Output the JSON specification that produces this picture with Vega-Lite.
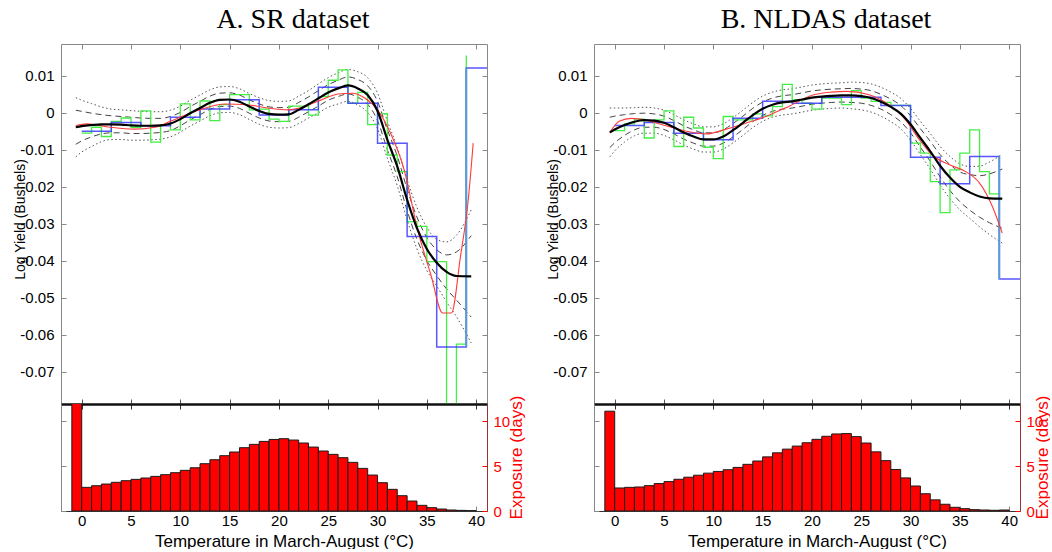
{
"$schema": "https://vega.github.io/schema/vega-lite/v6.json",
"padding": {"left": 13, "top": 5, "right": 0, "bottom": 0},
"background": "white",
"config": {
  "view": {"stroke": null},
  "axis": {"labelFont": "Liberation Sans", "labelFontSize": 15, "labelColor": "#000", "titleFont": "Liberation Sans", "titleFontWeight": "normal", "titleColor": "#000", "domainColor": "#888", "tickColor": "#888", "grid": false},
  "title": {"font": "Liberation Serif", "fontSize": 28, "fontWeight": "normal", "color": "#000"}
},
"datasets": {
  "fitA": [
    {"T":-0.6,"fit":-0.0039,"lo1":-0.0085,"hi1":0.0007,"lo2":-0.0119,"hi2":0.0041},
    {"T":0,"fit":-0.0036,"lo1":-0.0076,"hi1":0.0004,"lo2":-0.0106,"hi2":0.0034},
    {"T":1,"fit":-0.0033,"lo1":-0.0065,"hi1":-0.0001,"lo2":-0.0091,"hi2":0.0025},
    {"T":2,"fit":-0.0031,"lo1":-0.0057,"hi1":-0.0005,"lo2":-0.0078,"hi2":0.0016},
    {"T":3,"fit":-0.0031,"lo1":-0.0054,"hi1":-0.0008,"lo2":-0.0072,"hi2":0.0010},
    {"T":4,"fit":-0.0032,"lo1":-0.0054,"hi1":-0.0010,"lo2":-0.0072,"hi2":0.0008},
    {"T":5,"fit":-0.0034,"lo1":-0.0056,"hi1":-0.0012,"lo2":-0.0074,"hi2":0.0006},
    {"T":6,"fit":-0.0035,"lo1":-0.0056,"hi1":-0.0014,"lo2":-0.0074,"hi2":0.0004},
    {"T":7,"fit":-0.0035,"lo1":-0.0055,"hi1":-0.0015,"lo2":-0.0073,"hi2":0.0003},
    {"T":8,"fit":-0.0034,"lo1":-0.0053,"hi1":-0.0015,"lo2":-0.0071,"hi2":0.0003},
    {"T":9,"fit":-0.0029,"lo1":-0.0048,"hi1":-0.0010,"lo2":-0.0065,"hi2":0.0007},
    {"T":10,"fit":-0.0017,"lo1":-0.0035,"hi1":0.0001,"lo2":-0.0052,"hi2":0.0018},
    {"T":11,"fit":-0.0001,"lo1":-0.0019,"hi1":0.0017,"lo2":-0.0036,"hi2":0.0034},
    {"T":12,"fit":0.0013,"lo1":-0.0005,"hi1":0.0031,"lo2":-0.0022,"hi2":0.0048},
    {"T":13,"fit":0.0027,"lo1":0.0009,"hi1":0.0045,"lo2":-0.0008,"hi2":0.0062},
    {"T":14,"fit":0.0035,"lo1":0.0017,"hi1":0.0053,"lo2":0.0000,"hi2":0.0070},
    {"T":15,"fit":0.0036,"lo1":0.0018,"hi1":0.0054,"lo2":0.0001,"hi2":0.0071},
    {"T":16,"fit":0.0030,"lo1":0.0012,"hi1":0.0048,"lo2":-0.0005,"hi2":0.0065},
    {"T":17,"fit":0.0017,"lo1":-0.0001,"hi1":0.0035,"lo2":-0.0018,"hi2":0.0052},
    {"T":18,"fit":0.0005,"lo1":-0.0014,"hi1":0.0024,"lo2":-0.0031,"hi2":0.0041},
    {"T":19,"fit":-0.0003,"lo1":-0.0022,"hi1":0.0016,"lo2":-0.0039,"hi2":0.0033},
    {"T":20,"fit":-0.0005,"lo1":-0.0024,"hi1":0.0014,"lo2":-0.0041,"hi2":0.0031},
    {"T":21,"fit":-0.0004,"lo1":-0.0023,"hi1":0.0015,"lo2":-0.0040,"hi2":0.0032},
    {"T":22,"fit":0.0008,"lo1":-0.0012,"hi1":0.0028,"lo2":-0.0029,"hi2":0.0045},
    {"T":23,"fit":0.0023,"lo1":0.0003,"hi1":0.0043,"lo2":-0.0014,"hi2":0.0060},
    {"T":24,"fit":0.0039,"lo1":0.0018,"hi1":0.0060,"lo2":0.0000,"hi2":0.0078},
    {"T":25,"fit":0.0055,"lo1":0.0034,"hi1":0.0076,"lo2":0.0015,"hi2":0.0095},
    {"T":26,"fit":0.0066,"lo1":0.0044,"hi1":0.0088,"lo2":0.0024,"hi2":0.0108},
    {"T":27,"fit":0.0074,"lo1":0.0051,"hi1":0.0097,"lo2":0.0031,"hi2":0.0117},
    {"T":28,"fit":0.0066,"lo1":0.0042,"hi1":0.0090,"lo2":0.0021,"hi2":0.0111},
    {"T":29,"fit":0.0048,"lo1":0.0023,"hi1":0.0073,"lo2":0.0001,"hi2":0.0095},
    {"T":30,"fit":0.0005,"lo1":-0.0021,"hi1":0.0031,"lo2":-0.0043,"hi2":0.0053},
    {"T":31,"fit":-0.0073,"lo1":-0.0100,"hi1":-0.0046,"lo2":-0.0123,"hi2":-0.0023},
    {"T":32,"fit":-0.0145,"lo1":-0.0173,"hi1":-0.0117,"lo2":-0.0197,"hi2":-0.0093},
    {"T":33,"fit":-0.0235,"lo1":-0.0264,"hi1":-0.0206,"lo2":-0.0289,"hi2":-0.0181},
    {"T":34,"fit":-0.0312,"lo1":-0.0342,"hi1":-0.0282,"lo2":-0.0368,"hi2":-0.0256},
    {"T":35,"fit":-0.0368,"lo1":-0.0399,"hi1":-0.0337,"lo2":-0.0426,"hi2":-0.0310},
    {"T":36,"fit":-0.0405,"lo1":-0.0440,"hi1":-0.0370,"lo2":-0.0468,"hi2":-0.0342},
    {"T":37,"fit":-0.0430,"lo1":-0.0476,"hi1":-0.0384,"lo2":-0.0511,"hi2":-0.0349},
    {"T":38,"fit":-0.0441,"lo1":-0.0506,"hi1":-0.0376,"lo2":-0.0551,"hi2":-0.0331},
    {"T":39.5,"fit":-0.0442,"lo1":-0.0552,"hi1":-0.0332,"lo2":-0.0622,"hi2":-0.0262}
  ],
  "fitB": [
    {"T":-0.5,"fit":-0.0053,"lo1":-0.0094,"hi1":-0.0012,"lo2":-0.0119,"hi2":0.0013},
    {"T":0,"fit":-0.0045,"lo1":-0.0081,"hi1":-0.0009,"lo2":-0.0103,"hi2":0.0013},
    {"T":1,"fit":-0.0033,"lo1":-0.0061,"hi1":-0.0005,"lo2":-0.0079,"hi2":0.0013},
    {"T":2,"fit":-0.0024,"lo1":-0.0046,"hi1":-0.0002,"lo2":-0.0062,"hi2":0.0014},
    {"T":3,"fit":-0.0020,"lo1":-0.0039,"hi1":-0.0001,"lo2":-0.0055,"hi2":0.0015},
    {"T":4,"fit":-0.0021,"lo1":-0.0039,"hi1":-0.0003,"lo2":-0.0055,"hi2":0.0013},
    {"T":5,"fit":-0.0027,"lo1":-0.0045,"hi1":-0.0009,"lo2":-0.0061,"hi2":0.0007},
    {"T":6,"fit":-0.0039,"lo1":-0.0057,"hi1":-0.0021,"lo2":-0.0073,"hi2":-0.0005},
    {"T":7,"fit":-0.0053,"lo1":-0.0071,"hi1":-0.0035,"lo2":-0.0087,"hi2":-0.0019},
    {"T":8,"fit":-0.0064,"lo1":-0.0082,"hi1":-0.0046,"lo2":-0.0098,"hi2":-0.0030},
    {"T":9,"fit":-0.0072,"lo1":-0.0090,"hi1":-0.0054,"lo2":-0.0106,"hi2":-0.0038},
    {"T":10,"fit":-0.0072,"lo1":-0.0090,"hi1":-0.0054,"lo2":-0.0106,"hi2":-0.0038},
    {"T":11,"fit":-0.0064,"lo1":-0.0082,"hi1":-0.0046,"lo2":-0.0098,"hi2":-0.0030},
    {"T":12,"fit":-0.0047,"lo1":-0.0065,"hi1":-0.0029,"lo2":-0.0081,"hi2":-0.0013},
    {"T":13,"fit":-0.0027,"lo1":-0.0045,"hi1":-0.0009,"lo2":-0.0061,"hi2":0.0007},
    {"T":14,"fit":-0.0006,"lo1":-0.0024,"hi1":0.0012,"lo2":-0.0040,"hi2":0.0028},
    {"T":15,"fit":0.0011,"lo1":-0.0007,"hi1":0.0029,"lo2":-0.0023,"hi2":0.0045},
    {"T":16,"fit":0.0022,"lo1":0.0004,"hi1":0.0040,"lo2":-0.0012,"hi2":0.0056},
    {"T":17,"fit":0.0028,"lo1":0.0010,"hi1":0.0046,"lo2":-0.0006,"hi2":0.0062},
    {"T":18,"fit":0.0031,"lo1":0.0013,"hi1":0.0049,"lo2":-0.0003,"hi2":0.0065},
    {"T":19,"fit":0.0036,"lo1":0.0018,"hi1":0.0054,"lo2":0.0002,"hi2":0.0070},
    {"T":20,"fit":0.0041,"lo1":0.0023,"hi1":0.0059,"lo2":0.0007,"hi2":0.0075},
    {"T":21,"fit":0.0044,"lo1":0.0026,"hi1":0.0062,"lo2":0.0010,"hi2":0.0078},
    {"T":22,"fit":0.0046,"lo1":0.0028,"hi1":0.0064,"lo2":0.0012,"hi2":0.0080},
    {"T":23,"fit":0.0047,"lo1":0.0029,"hi1":0.0065,"lo2":0.0013,"hi2":0.0081},
    {"T":24,"fit":0.0047,"lo1":0.0028,"hi1":0.0066,"lo2":0.0011,"hi2":0.0083},
    {"T":25,"fit":0.0045,"lo1":0.0026,"hi1":0.0064,"lo2":0.0008,"hi2":0.0082},
    {"T":26,"fit":0.0040,"lo1":0.0020,"hi1":0.0060,"lo2":0.0002,"hi2":0.0078},
    {"T":27,"fit":0.0030,"lo1":0.0010,"hi1":0.0050,"lo2":-0.0009,"hi2":0.0069},
    {"T":28,"fit":0.0016,"lo1":-0.0005,"hi1":0.0037,"lo2":-0.0024,"hi2":0.0056},
    {"T":29,"fit":-0.0002,"lo1":-0.0024,"hi1":0.0020,"lo2":-0.0043,"hi2":0.0039},
    {"T":30,"fit":-0.0031,"lo1":-0.0054,"hi1":-0.0008,"lo2":-0.0074,"hi2":0.0012},
    {"T":31,"fit":-0.0068,"lo1":-0.0093,"hi1":-0.0043,"lo2":-0.0113,"hi2":-0.0023},
    {"T":32,"fit":-0.0104,"lo1":-0.0131,"hi1":-0.0077,"lo2":-0.0152,"hi2":-0.0056},
    {"T":33,"fit":-0.0143,"lo1":-0.0173,"hi1":-0.0113,"lo2":-0.0195,"hi2":-0.0091},
    {"T":34,"fit":-0.0175,"lo1":-0.0210,"hi1":-0.0140,"lo2":-0.0232,"hi2":-0.0118},
    {"T":35,"fit":-0.0200,"lo1":-0.0240,"hi1":-0.0160,"lo2":-0.0262,"hi2":-0.0138},
    {"T":36,"fit":-0.0215,"lo1":-0.0263,"hi1":-0.0167,"lo2":-0.0285,"hi2":-0.0145},
    {"T":37,"fit":-0.0226,"lo1":-0.0282,"hi1":-0.0170,"lo2":-0.0308,"hi2":-0.0144},
    {"T":38,"fit":-0.0231,"lo1":-0.0297,"hi1":-0.0165,"lo2":-0.0329,"hi2":-0.0133},
    {"T":39.3,"fit":-0.0232,"lo1":-0.0312,"hi1":-0.0152,"lo2":-0.0352,"hi2":-0.0112}
  ],
  "redA": [
    {"T":-0.6,"v":-0.0035},{"T":0.5,"v":-0.0030},{"T":2.9,"v":-0.0039},{"T":5.3,"v":-0.0044},
    {"T":7.4,"v":-0.0039},{"T":9.0,"v":-0.0023},{"T":11.4,"v":0.0003},{"T":14.5,"v":0.0024},
    {"T":16.8,"v":0.0022},{"T":18.85,"v":0.0013},{"T":20.9,"v":0.0008},{"T":22.6,"v":0.0017},
    {"T":24.3,"v":0.0035},{"T":26.0,"v":0.0051},{"T":27.5,"v":0.0053},{"T":28.7,"v":0.0040},
    {"T":30.0,"v":0.0008},{"T":31.4,"v":-0.0060},{"T":32.7,"v":-0.0154},{"T":34.1,"v":-0.0320},
    {"T":35.4,"v":-0.0437},{"T":36.6,"v":-0.0541},{"T":37.5,"v":-0.0541},{"T":38.4,"v":-0.0390},
    {"T":39.2,"v":-0.0235},{"T":39.7,"v":-0.0082}
  ],
  "redB": [
    {"T":-0.5,"v":-0.0053},{"T":0.5,"v":-0.0022},{"T":1.7,"v":-0.0015},{"T":3.2,"v":-0.0020},
    {"T":5.2,"v":-0.0035},{"T":7.3,"v":-0.0050},{"T":9.3,"v":-0.0057},{"T":11.3,"v":-0.0044},
    {"T":13.3,"v":-0.0028},{"T":15.4,"v":-0.0009},{"T":17.7,"v":0.0018},{"T":20.1,"v":0.0048},
    {"T":22.0,"v":0.0056},{"T":23.5,"v":0.0058},{"T":25.8,"v":0.0049},{"T":27.8,"v":0.0022},
    {"T":29.5,"v":-0.0019},{"T":30.9,"v":-0.0073},{"T":32.2,"v":-0.0114},{"T":33.9,"v":-0.0140},
    {"T":35.6,"v":-0.0159},{"T":37.0,"v":-0.0190},{"T":38.3,"v":-0.0253},{"T":39.3,"v":-0.0325}
  ],
  "greenA": [
    {"T":0,"v":-0.0055},{"T":1,"v":-0.0039},{"T":2,"v":-0.0064},{"T":3,"v":-0.0023},{"T":4,"v":-0.0014},
    {"T":5,"v":-0.0039},{"T":6,"v":0.0005},{"T":7,"v":-0.0079},{"T":8,"v":-0.0032},{"T":9,"v":-0.0046},
    {"T":10,"v":0.0024},{"T":11,"v":-0.0019},{"T":12,"v":0.0032},{"T":13,"v":-0.0021},{"T":14,"v":0.0022},
    {"T":15,"v":0.0049},{"T":16,"v":0.0049},{"T":17,"v":0.0008},{"T":18,"v":0.0010},{"T":19,"v":-0.0017},
    {"T":20,"v":-0.0023},{"T":21,"v":0.0018},{"T":22,"v":0.0018},{"T":23,"v":-0.0006},{"T":24,"v":0.0044},
    {"T":25,"v":0.0088},{"T":26,"v":0.0116},{"T":27,"v":0.0026},{"T":28,"v":0.0055},{"T":29,"v":-0.0032},
    {"T":30,"v":-0.0002},{"T":31,"v":-0.0114},{"T":32,"v":-0.0159},{"T":33,"v":-0.0294},{"T":34,"v":-0.0307},
    {"T":35,"v":-0.0402},{"T":36,"v":-0.0402},{"T":37,"v":-0.0950},{"T":38,"v":-0.0625},{"T":39,"v":0.0155}
  ],
  "greenB": [
    {"T":0,"v":-0.0048},{"T":1,"v":-0.0030},{"T":2,"v":-0.0017},{"T":3,"v":-0.0068},{"T":4,"v":-0.0019},
    {"T":5,"v":0.0005},{"T":6,"v":-0.0091},{"T":7,"v":-0.0012},{"T":8,"v":-0.0041},{"T":9,"v":-0.0093},
    {"T":10,"v":-0.0124},{"T":11,"v":-0.0010},{"T":12,"v":-0.0019},{"T":13,"v":-0.0019},{"T":14,"v":-0.0003},
    {"T":15,"v":-0.0008},{"T":16,"v":0.0017},{"T":17,"v":0.0077},{"T":18,"v":0.0035},{"T":19,"v":0.0026},
    {"T":20,"v":0.0010},{"T":21,"v":0.0040},{"T":22,"v":0.0040},{"T":23,"v":0.0022},{"T":24,"v":0.0060},
    {"T":25,"v":0.0040},{"T":26,"v":0.0031},{"T":27,"v":0.0028},{"T":28,"v":0.0020},{"T":29,"v":0.0020},
    {"T":30,"v":-0.0082},{"T":31,"v":-0.0109},{"T":32,"v":-0.0186},{"T":33,"v":-0.0270},{"T":34,"v":-0.0154},
    {"T":35,"v":-0.0109},{"T":36,"v":-0.0046},{"T":37,"v":-0.0159},{"T":38,"v":-0.0219},{"T":39,"v":-0.0219}
  ],
  "blueA": [
    {"T":0,"v":-0.0050},{"T":3,"v":-0.0026},{"T":6,"v":-0.0035},{"T":9,"v":-0.0012},{"T":12,"v":0.0010},
    {"T":15,"v":0.0035},{"T":18,"v":-0.0006},{"T":21,"v":0.0008},{"T":24,"v":0.0069},{"T":27,"v":0.0026},
    {"T":30,"v":-0.0082},{"T":33,"v":-0.0334},{"T":36,"v":-0.0633},{"T":39,"v":0.0121},{"T":41.1,"v":0.0121}
  ],
  "blueB": [
    {"T":0,"v":-0.0034},{"T":3,"v":-0.0026},{"T":6,"v":-0.0055},{"T":9,"v":-0.0073},{"T":12,"v":-0.0015},
    {"T":15,"v":0.0031},{"T":18,"v":0.0026},{"T":21,"v":0.0042},{"T":24,"v":0.0042},{"T":27,"v":0.0020},
    {"T":30,"v":-0.0120},{"T":33,"v":-0.0192},{"T":36,"v":-0.0118},{"T":39,"v":-0.0449},{"T":41.1,"v":-0.0449}
  ],
  "vlineA": [{"T":39,"a":-0.0633,"b":0.0121}],
  "vlineB": [{"T":39,"a":-0.0118,"b":-0.0449}],
  "histA": [
    {"x0":-1,"x1":0,"e":12.2},{"x0":0,"x1":1,"e":2.63},{"x0":1,"x1":2,"e":2.81},{"x0":2,"x1":3,"e":3.00},
    {"x0":3,"x1":4,"e":3.19},{"x0":4,"x1":5,"e":3.37},{"x0":5,"x1":6,"e":3.52},{"x0":6,"x1":7,"e":3.67},
    {"x0":7,"x1":8,"e":3.85},{"x0":8,"x1":9,"e":4.04},{"x0":9,"x1":10,"e":4.26},{"x0":10,"x1":11,"e":4.52},
    {"x0":11,"x1":12,"e":4.81},{"x0":12,"x1":13,"e":5.26},{"x0":13,"x1":14,"e":5.70},{"x0":14,"x1":15,"e":6.15},
    {"x0":15,"x1":16,"e":6.56},{"x0":16,"x1":17,"e":7.04},{"x0":17,"x1":18,"e":7.41},{"x0":18,"x1":19,"e":7.74},
    {"x0":19,"x1":20,"e":7.96},{"x0":20,"x1":21,"e":8.04},{"x0":21,"x1":22,"e":7.89},{"x0":22,"x1":23,"e":7.56},
    {"x0":23,"x1":24,"e":7.11},{"x0":24,"x1":25,"e":6.67},{"x0":25,"x1":26,"e":6.30},{"x0":26,"x1":27,"e":5.93},
    {"x0":27,"x1":28,"e":5.41},{"x0":28,"x1":29,"e":4.74},{"x0":29,"x1":30,"e":4.00},{"x0":30,"x1":31,"e":3.15},
    {"x0":31,"x1":32,"e":2.41},{"x0":32,"x1":33,"e":1.70},{"x0":33,"x1":34,"e":1.11},{"x0":34,"x1":35,"e":0.63},
    {"x0":35,"x1":36,"e":0.37},{"x0":36,"x1":37,"e":0.22},{"x0":37,"x1":38,"e":0.11},{"x0":38,"x1":39,"e":0.07},
    {"x0":39,"x1":40,"e":0.04}
  ],
  "histB": [
    {"x0":-1,"x1":0,"e":11.1},{"x0":0,"x1":1,"e":2.56},{"x0":1,"x1":2,"e":2.63},{"x0":2,"x1":3,"e":2.67},
    {"x0":3,"x1":4,"e":2.82},{"x0":4,"x1":5,"e":3.05},{"x0":5,"x1":6,"e":3.27},{"x0":6,"x1":7,"e":3.53},
    {"x0":7,"x1":8,"e":3.76},{"x0":8,"x1":9,"e":3.98},{"x0":9,"x1":10,"e":4.21},{"x0":10,"x1":11,"e":4.40},
    {"x0":11,"x1":12,"e":4.59},{"x0":12,"x1":13,"e":4.85},{"x0":13,"x1":14,"e":5.19},{"x0":14,"x1":15,"e":5.56},
    {"x0":15,"x1":16,"e":6.02},{"x0":16,"x1":17,"e":6.47},{"x0":17,"x1":18,"e":6.88},{"x0":18,"x1":19,"e":7.22},
    {"x0":19,"x1":20,"e":7.59},{"x0":20,"x1":21,"e":7.97},{"x0":21,"x1":22,"e":8.31},{"x0":22,"x1":23,"e":8.57},
    {"x0":23,"x1":24,"e":8.61},{"x0":24,"x1":25,"e":8.27},{"x0":25,"x1":26,"e":7.56},{"x0":26,"x1":27,"e":6.58},
    {"x0":27,"x1":28,"e":5.60},{"x0":28,"x1":29,"e":4.62},{"x0":29,"x1":30,"e":3.68},{"x0":30,"x1":31,"e":2.78},
    {"x0":31,"x1":32,"e":1.92},{"x0":32,"x1":33,"e":1.24},{"x0":33,"x1":34,"e":0.75},{"x0":34,"x1":35,"e":0.41},
    {"x0":35,"x1":36,"e":0.26},{"x0":36,"x1":37,"e":0.15},{"x0":37,"x1":38,"e":0.11},{"x0":38,"x1":39,"e":0.08},
    {"x0":39,"x1":40,"e":0.11}
  ]
},
"columns": 2,
"spacing": {"row": 0, "column": 107},
"bounds": "flush",
"concat": [
   {
    "width": 426, "height": 360,
    "title": {"text": "A. SR dataset", "dx": 19, "offset": 10},
    "resolve": {"axis": {"x": "independent", "y": "independent"}},
    "layer": [
     {"data": {"name": "fitA"}, "transform": [{"fold": ["lo2","hi2"], "as": ["band","v"]}],
      "mark": {"type": "line", "color": "#555", "strokeWidth": 1, "strokeDash": [1.5,2.5], "interpolate": "monotone", "clip": true},
      "encoding": {
        "x": {"field": "T", "type": "quantitative", "scale": {"domain": [-2.1,41.1], "nice": false, "zero": false},
              "axis": {"orient": "bottom", "values": [0,5,10,15,20,25,30,35,40], "labels": false, "title": null, "tickSize": -5, "domainColor": "#111", "domainWidth": 2, "tickColor": "#555"}},
        "y": {"field": "v", "type": "quantitative", "scale": {"domain": [-0.0787,0.0186], "nice": false, "zero": false},
              "axis": {"orient": "left", "values": [-0.07,-0.06,-0.05,-0.04,-0.03,-0.02,-0.01,0,0.01], "labelExpr": "datum.value == 0 ? '0' : (datum.value < 0 ? '-' + format(-datum.value, '.2f') : format(datum.value, '.2f'))", "tickSize": -5, "labelPadding": 12, "title": "Log Yield (Bushels)", "titleFontSize": 14, "titleAngle": 270, "titleX": -34, "titleY": 175, "titleBaseline": "bottom", "titleAlign": "center"}},
        "detail": {"field": "band"}
      }},
     {"data": {"name": "fitA"}, "transform": [{"fold": ["lo1","hi1"], "as": ["band","v"]}],
      "mark": {"type": "line", "color": "#444", "strokeWidth": 1, "strokeDash": [6,4], "interpolate": "monotone", "clip": true},
      "encoding": {
        "x": {"field": "T", "type": "quantitative", "scale": {"domain": [-2.1,41.1], "nice": false, "zero": false}, "axis": null},
        "y": {"field": "v", "type": "quantitative", "scale": {"domain": [-0.0787,0.0186], "nice": false, "zero": false}, "axis": null},
        "detail": {"field": "band"}
      }},
     {"mark": {"type": "rule", "color": "#666", "strokeWidth": 1, "strokeDash": [1.5,2.5]},
      "encoding": {"y": {"datum": 0, "type": "quantitative", "scale": {"domain": [-0.0787,0.0186], "nice": false, "zero": false}, "axis": null}}},
     {"data": {"name": "greenA"},
      "mark": {"type": "line", "color": "#44ee44", "strokeWidth": 1.3, "interpolate": "step-after", "clip": true},
      "encoding": {
        "x": {"field": "T", "type": "quantitative", "scale": {"domain": [-2.1,41.1], "nice": false, "zero": false}, "axis": null},
        "y": {"field": "v", "type": "quantitative", "scale": {"domain": [-0.0787,0.0186], "nice": false, "zero": false}, "axis": null}
      }},
     {"data": {"name": "blueA"},
      "mark": {"type": "line", "color": "#3a3aff", "strokeWidth": 1.5, "opacity": 0.85, "interpolate": "step-after", "clip": true},
      "encoding": {
        "x": {"field": "T", "type": "quantitative", "scale": {"domain": [-2.1,41.1], "nice": false, "zero": false}, "axis": null},
        "y": {"field": "v", "type": "quantitative", "scale": {"domain": [-0.0787,0.0186], "nice": false, "zero": false}, "axis": null}
      }},
     {"data": {"name": "vlineA"},
      "mark": {"type": "rule", "color": "#5b9bd5", "strokeWidth": 2},
      "encoding": {
        "x": {"field": "T", "type": "quantitative", "scale": {"domain": [-2.1,41.1], "nice": false, "zero": false}, "axis": null},
        "y": {"field": "a", "type": "quantitative", "scale": {"domain": [-0.0787,0.0186], "nice": false, "zero": false}, "axis": null},
        "y2": {"field": "b"}
      }},
     {"data": {"name": "redA"},
      "mark": {"type": "line", "color": "#ff3b3b", "strokeWidth": 1.1, "interpolate": "monotone", "clip": true},
      "encoding": {
        "x": {"field": "T", "type": "quantitative", "scale": {"domain": [-2.1,41.1], "nice": false, "zero": false}, "axis": null},
        "y": {"field": "v", "type": "quantitative", "scale": {"domain": [-0.0787,0.0186], "nice": false, "zero": false}, "axis": null}
      }},
     {"data": {"name": "fitA"},
      "mark": {"type": "line", "color": "#000", "strokeWidth": 2.2, "interpolate": "monotone", "clip": true},
      "encoding": {
        "x": {"field": "T", "type": "quantitative", "scale": {"domain": [-2.1,41.1], "nice": false, "zero": false},
              "axis": {"orient": "top", "values": [0,5,10,15,20,25,30,35,40], "labels": false, "title": null, "tickSize": -5}},
        "y": {"field": "fit", "type": "quantitative", "scale": {"domain": [-0.0787,0.0186], "nice": false, "zero": false},
              "axis": {"orient": "right", "values": [-0.07,-0.06,-0.05,-0.04,-0.03,-0.02,-0.01,0,0.01], "labels": false, "title": null, "tickSize": -5}}
      }}
    ]
   },
   {
    "width": 426, "height": 360,
    "title": {"text": "B. NLDAS dataset", "dx": 19, "offset": 10},
    "resolve": {"axis": {"x": "independent", "y": "independent"}},
    "layer": [
     {"data": {"name": "fitB"}, "transform": [{"fold": ["lo2","hi2"], "as": ["band","v"]}],
      "mark": {"type": "line", "color": "#555", "strokeWidth": 1, "strokeDash": [1.5,2.5], "interpolate": "monotone", "clip": true},
      "encoding": {
        "x": {"field": "T", "type": "quantitative", "scale": {"domain": [-2.1,41.1], "nice": false, "zero": false},
              "axis": {"orient": "bottom", "values": [0,5,10,15,20,25,30,35,40], "labels": false, "title": null, "tickSize": -5, "domainColor": "#111", "domainWidth": 2, "tickColor": "#555"}},
        "y": {"field": "v", "type": "quantitative", "scale": {"domain": [-0.0787,0.0186], "nice": false, "zero": false},
              "axis": {"orient": "left", "values": [-0.07,-0.06,-0.05,-0.04,-0.03,-0.02,-0.01,0,0.01], "labelExpr": "datum.value == 0 ? '0' : (datum.value < 0 ? '-' + format(-datum.value, '.2f') : format(datum.value, '.2f'))", "tickSize": -5, "labelPadding": 12, "title": "Log Yield (Bushels)", "titleFontSize": 14, "titleAngle": 270, "titleX": -34, "titleY": 175, "titleBaseline": "bottom", "titleAlign": "center"}},
        "detail": {"field": "band"}
      }},
     {"data": {"name": "fitB"}, "transform": [{"fold": ["lo1","hi1"], "as": ["band","v"]}],
      "mark": {"type": "line", "color": "#444", "strokeWidth": 1, "strokeDash": [6,4], "interpolate": "monotone", "clip": true},
      "encoding": {
        "x": {"field": "T", "type": "quantitative", "scale": {"domain": [-2.1,41.1], "nice": false, "zero": false}, "axis": null},
        "y": {"field": "v", "type": "quantitative", "scale": {"domain": [-0.0787,0.0186], "nice": false, "zero": false}, "axis": null},
        "detail": {"field": "band"}
      }},
     {"mark": {"type": "rule", "color": "#666", "strokeWidth": 1, "strokeDash": [1.5,2.5]},
      "encoding": {"y": {"datum": 0, "type": "quantitative", "scale": {"domain": [-0.0787,0.0186], "nice": false, "zero": false}, "axis": null}}},
     {"data": {"name": "greenB"},
      "mark": {"type": "line", "color": "#44ee44", "strokeWidth": 1.3, "interpolate": "step-after", "clip": true},
      "encoding": {
        "x": {"field": "T", "type": "quantitative", "scale": {"domain": [-2.1,41.1], "nice": false, "zero": false}, "axis": null},
        "y": {"field": "v", "type": "quantitative", "scale": {"domain": [-0.0787,0.0186], "nice": false, "zero": false}, "axis": null}
      }},
     {"data": {"name": "blueB"},
      "mark": {"type": "line", "color": "#3a3aff", "strokeWidth": 1.5, "opacity": 0.85, "interpolate": "step-after", "clip": true},
      "encoding": {
        "x": {"field": "T", "type": "quantitative", "scale": {"domain": [-2.1,41.1], "nice": false, "zero": false}, "axis": null},
        "y": {"field": "v", "type": "quantitative", "scale": {"domain": [-0.0787,0.0186], "nice": false, "zero": false}, "axis": null}
      }},
     {"data": {"name": "vlineB"},
      "mark": {"type": "rule", "color": "#5b9bd5", "strokeWidth": 2},
      "encoding": {
        "x": {"field": "T", "type": "quantitative", "scale": {"domain": [-2.1,41.1], "nice": false, "zero": false}, "axis": null},
        "y": {"field": "a", "type": "quantitative", "scale": {"domain": [-0.0787,0.0186], "nice": false, "zero": false}, "axis": null},
        "y2": {"field": "b"}
      }},
     {"data": {"name": "redB"},
      "mark": {"type": "line", "color": "#ff3b3b", "strokeWidth": 1.1, "interpolate": "monotone", "clip": true},
      "encoding": {
        "x": {"field": "T", "type": "quantitative", "scale": {"domain": [-2.1,41.1], "nice": false, "zero": false}, "axis": null},
        "y": {"field": "v", "type": "quantitative", "scale": {"domain": [-0.0787,0.0186], "nice": false, "zero": false}, "axis": null}
      }},
     {"data": {"name": "fitB"},
      "mark": {"type": "line", "color": "#000", "strokeWidth": 2.2, "interpolate": "monotone", "clip": true},
      "encoding": {
        "x": {"field": "T", "type": "quantitative", "scale": {"domain": [-2.1,41.1], "nice": false, "zero": false},
              "axis": {"orient": "top", "values": [0,5,10,15,20,25,30,35,40], "labels": false, "title": null, "tickSize": -5}},
        "y": {"field": "fit", "type": "quantitative", "scale": {"domain": [-0.0787,0.0186], "nice": false, "zero": false},
              "axis": {"orient": "right", "values": [-0.07,-0.06,-0.05,-0.04,-0.03,-0.02,-0.01,0,0.01], "labels": false, "title": null, "tickSize": -5}}
      }}
    ]
   },
   {
    "width": 426, "height": 107,
    "data": {"name": "histA"},
    "resolve": {"axis": {"x": "independent", "y": "independent"}},
    "layer": [
     {"mark": {"type": "bar", "color": "#ff0000", "stroke": "#1a1a1a", "strokeWidth": 1, "clip": true},
      "encoding": {
        "x": {"field": "x0", "type": "quantitative", "scale": {"domain": [-2.1,41.1], "nice": false, "zero": false},
              "axis": {"orient": "bottom", "values": [0,5,10,15,20,25,30,35,40], "tickSize": -5, "labelPadding": 7, "domainColor": "#333", "title": "Temperature in March-August (°C)", "titleFontSize": 17, "titleX": 223, "titlePadding": 5}},
        "x2": {"field": "x1"},
        "y": {"field": "e", "type": "quantitative", "scale": {"domain": [0,11.9], "nice": false},
              "axis": {"orient": "right", "values": [0,5,10], "tickSize": -5, "labelPadding": 11, "labelColor": "#ff0000", "tickColor": "#ff0000", "domainColor": "#993333", "title": "Exposure (days)", "titleColor": "#ff0000", "titleFontSize": 17, "titleAngle": 270, "titleX": 21, "titleY": 53, "titleBaseline": "top", "titleAlign": "center"}},
        "y2": {"datum": 0}
      }},
     {"mark": {"type": "bar", "opacity": 0},
      "encoding": {
        "x": {"field": "x0", "type": "quantitative", "scale": {"domain": [-2.1,41.1], "nice": false, "zero": false},
              "axis": {"orient": "top", "values": [0,5,10,15,20,25,30,35,40], "labels": false, "title": null, "tickSize": -5, "domainColor": "#111", "domainWidth": 2, "tickColor": "#333"}},
        "x2": {"field": "x1"},
        "y": {"field": "e", "type": "quantitative", "scale": {"domain": [0,11.9], "nice": false},
              "axis": {"orient": "left", "values": [0,5,10], "labels": false, "title": null, "tickSize": -5}},
        "y2": {"datum": 0}
      }}
    ]
   },
   {
    "width": 426, "height": 107,
    "data": {"name": "histB"},
    "resolve": {"axis": {"x": "independent", "y": "independent"}},
    "layer": [
     {"mark": {"type": "bar", "color": "#ff0000", "stroke": "#1a1a1a", "strokeWidth": 1, "clip": true},
      "encoding": {
        "x": {"field": "x0", "type": "quantitative", "scale": {"domain": [-2.1,41.1], "nice": false, "zero": false},
              "axis": {"orient": "bottom", "values": [0,5,10,15,20,25,30,35,40], "tickSize": -5, "labelPadding": 7, "domainColor": "#333", "title": "Temperature in March-August (°C)", "titleFontSize": 17, "titleX": 223, "titlePadding": 5}},
        "x2": {"field": "x1"},
        "y": {"field": "e", "type": "quantitative", "scale": {"domain": [0,11.9], "nice": false},
              "axis": {"orient": "right", "values": [0,5,10], "tickSize": -5, "labelPadding": 11, "labelColor": "#ff0000", "tickColor": "#ff0000", "domainColor": "#993333", "title": "Exposure (days)", "titleColor": "#ff0000", "titleFontSize": 17, "titleAngle": 270, "titleX": 14, "titleY": 53, "titleBaseline": "top", "titleAlign": "center"}},
        "y2": {"datum": 0}
      }},
     {"mark": {"type": "bar", "opacity": 0},
      "encoding": {
        "x": {"field": "x0", "type": "quantitative", "scale": {"domain": [-2.1,41.1], "nice": false, "zero": false},
              "axis": {"orient": "top", "values": [0,5,10,15,20,25,30,35,40], "labels": false, "title": null, "tickSize": -5, "domainColor": "#111", "domainWidth": 2, "tickColor": "#333"}},
        "x2": {"field": "x1"},
        "y": {"field": "e", "type": "quantitative", "scale": {"domain": [0,11.9], "nice": false},
              "axis": {"orient": "left", "values": [0,5,10], "labels": false, "title": null, "tickSize": -5}},
        "y2": {"datum": 0}
      }}
    ]
   }
]
}
